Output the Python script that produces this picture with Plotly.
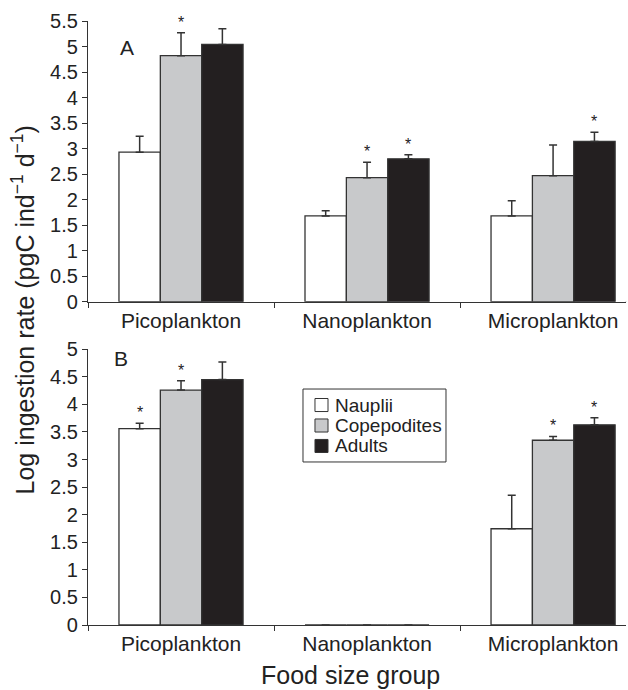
import plotly.graph_objects as go

categories = ["Picoplankton", "Nanoplankton", "Microplankton"]
series_names = ["Nauplii", "Copepodites", "Adults"]
series_colors = ["#ffffff", "#c8c9cb", "#231f20"]

# Panel A
a_nauplii = [2.93, 1.68, 1.68]
a_nauplii_err = [0.31, 0.10, 0.30]
a_copepodites = [4.82, 2.43, 2.47]
a_copepodites_err = [0.45, 0.30, 0.60]
a_adults = [5.04, 2.80, 3.14]
a_adults_err = [0.31, 0.08, 0.18]
a_signif = [[False, False, False], [True, True, False], [False, True, True]]

# Panel B
b_nauplii = [3.56, 0.0, 1.745]
b_nauplii_err = [0.10, 0.0, 0.61]
b_copepodites = [4.26, 0.0, 3.35]
b_copepodites_err = [0.17, 0.0, 0.07]
b_adults = [4.45, 0.0, 3.63]
b_adults_err = [0.32, 0.0, 0.13]
b_signif = [[True, False, False], [True, False, True], [False, False, True]]

a_ticks = [0, 0.5, 1, 1.5, 2, 2.5, 3, 3.5, 4, 4.5, 5, 5.5]
a_ticktext = ["0", "0.5", "1", "1.5", "2", "2.5", "3", "3.5", "4", "4.5", "5", "5.5"]
b_ticks = [0, 0.5, 1, 1.5, 2, 2.5, 3, 3.5, 4, 4.5, 5]
b_ticktext = ["0", "0.5", "1", "1.5", "2", "2.5", "3", "3.5", "4", "4.5", "5"]

FONT = "Liberation Sans, Arial, Helvetica, sans-serif"
LINE = "#333333"
TXT = "#222222"

fig = go.Figure()

panels = [
    ("x", "y", [a_nauplii, a_copepodites, a_adults],
     [a_nauplii_err, a_copepodites_err, a_adults_err], a_signif),
    ("x2", "y2", [b_nauplii, b_copepodites, b_adults],
     [b_nauplii_err, b_copepodites_err, b_adults_err], b_signif),
]

annotations = []
for xa, ya, vals, errs, sig in panels:
    for j, (name, col) in enumerate(zip(series_names, series_colors)):
        fig.add_trace(go.Bar(
            x=categories, y=vals[j], name=name,
            xaxis=xa, yaxis=ya,
            marker=dict(color=col, line=dict(color=LINE, width=1.3)),
            error_y=dict(type="data", array=errs[j], arrayminus=[0] * 3,
                         symmetric=False, color=LINE, thickness=1.5, width=4,
                         visible=True),
            showlegend=False, legendgroup=name,
        ))
        for i in range(3):
            if sig[j][i]:
                annotations.append(dict(
                    x=i + (j - 1) * 2 / 9, y=vals[j][i] + errs[j][i],
                    xref=xa, yref=ya, text="*", showarrow=False,
                    yanchor="bottom", xanchor="center",
                    font=dict(size=16, color=TXT, family=FONT)))

annotations += [
    dict(text="A", x=0.0558, y=0.9793, xref="paper", yref="paper",
         showarrow=False, font=dict(size=21, color=TXT, family=FONT)),
    dict(text="B", x=0.0446, y=0.442, xref="paper", yref="paper",
         showarrow=False, font=dict(size=21, color=TXT, family=FONT)),
    dict(text="Log ingestion rate (pgC ind<sup>\u22121</sup> d<sup>\u22121</sup>)",
         x=-0.12, y=0.5215, xref="paper", yref="paper", textangle=-90,
         showarrow=False, xanchor="center", yanchor="middle",
         font=dict(size=25, color=TXT, family=FONT)),
    dict(text="Food size group", x=0.487, y=-0.0825, xref="paper", yref="paper",
         showarrow=False, xanchor="center", yanchor="middle",
         font=dict(size=25, color=TXT, family=FONT)),
]

shapes = []
for xa, ya in [("x", "y"), ("x2", "y2")]:
    shapes.append(dict(type="line", xref=xa + " domain", x0=1, x1=1,
                       yref=ya, ysizemode="pixel", yanchor=0, y0=0, y1=-5,
                       line=dict(color=LINE, width=1.2)))

# Legend box (panel B), drawn as shapes + text
shapes.append(dict(type="rect", xref="paper", yref="paper",
                   x0=0.3996, x1=0.6654, y0=0.2699, y1=0.3907,
                   line=dict(color=LINE, width=1), fillcolor="white", layer="above"))
legend_rows = [0.3642, 0.3303, 0.2964]
for name, col, yc in zip(series_names, series_colors, legend_rows):
    shapes.append(dict(type="rect", xref="paper", yref="paper",
                       x0=0.4219, x1=0.4461, y0=yc - 0.0108, y1=yc + 0.0108,
                       line=dict(color=LINE, width=1), fillcolor=col, layer="above"))
    annotations.append(dict(text=name, x=0.4554, y=yc, xref="paper", yref="paper",
                            showarrow=False, xanchor="left", yanchor="middle",
                            font=dict(size=19, color=TXT, family=FONT)))

xaxis_common = dict(
    type="category", categoryorder="array", categoryarray=categories,
    tickson="boundaries", range=[-0.5, 2.392], showline=True,
    linecolor=LINE, linewidth=1.2, ticks="outside", ticklen=5,
    tickcolor=LINE, showgrid=False, zeroline=False,
    tickfont=dict(size=21, color=TXT, family=FONT),
)
yaxis_common = dict(
    showline=True, linecolor=LINE, linewidth=1.2, ticks="outside", ticklen=5,
    tickcolor=LINE, showgrid=False, zeroline=False,
    tickfont=dict(size=20, color=TXT, family=FONT),
)

fig.update_layout(
    width=628, height=690,
    margin=dict(l=88, r=2, t=21, b=65),
    paper_bgcolor="white", plot_bgcolor="white",
    barmode="group", bargap=0.333, bargroupgap=0,
    font=dict(family=FONT, color=TXT),
    showlegend=False,
    xaxis=dict(domain=[0, 1], anchor="y", **xaxis_common),
    yaxis=dict(domain=[0.5353, 1], anchor="x", range=[0, 5.5],
               tickvals=a_ticks, ticktext=a_ticktext, **yaxis_common),
    xaxis2=dict(domain=[0, 1], anchor="y2", **xaxis_common),
    yaxis2=dict(domain=[0, 0.4565], anchor="x2", range=[0, 5],
                tickvals=b_ticks, ticktext=b_ticktext, **yaxis_common),
    annotations=annotations,
    shapes=shapes,
)

fig.write_html("out.html",
               config={"displayModeBar": False},
               post_script="document.body.style.margin='0';document.body.style.overflow='hidden';")
